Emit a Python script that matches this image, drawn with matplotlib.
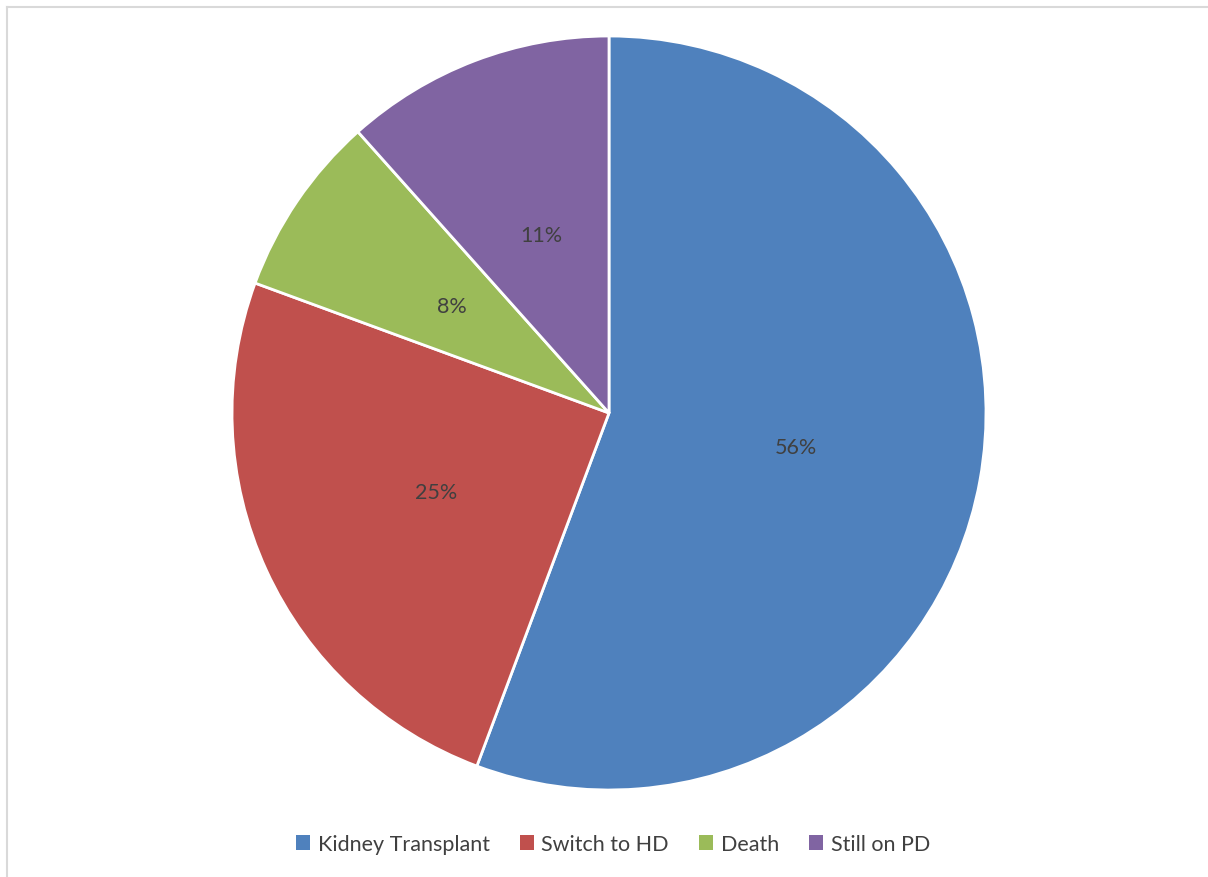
import matplotlib
matplotlib.use("Agg")
import matplotlib.pyplot as plt
import numpy as np
from matplotlib.lines import Line2D

categories = ["Kidney Transplant", "Switch to HD", "Death", "Still on PD"]
shares = [55.7, 24.9, 7.8, 11.6]
pct_labels = ["56%", "25%", "8%", "11%"]
colors = ["#4F81BD", "#C0504D", "#9BBB59", "#8064A2"]

plt.rcParams['font.family'] = ['Lato', 'DejaVu Sans']

W, H = 1208, 878
fig = plt.figure(figsize=(W / 100, H / 100), dpi=100)

# pie centre and radius in pixels
cx, cy, r = 609, 414, 377
ax = fig.add_axes([(cx - r) / W, (H - cy - r) / H, 2 * r / W, 2 * r / H])

wedges, texts = ax.pie(shares, colors=colors, startangle=90, counterclock=False,
                       radius=1, wedgeprops=dict(edgecolor="white", linewidth=2))
for w, lab in zip(wedges, pct_labels):
    ang = np.deg2rad((w.theta1 + w.theta2) / 2)
    ax.text(0.505 * np.cos(ang), 0.505 * np.sin(ang), lab, ha="center", va="center",
            fontsize=15.5, color="#404040")
ax.set_xlim(-1, 1)
ax.set_ylim(-1, 1)
ax.set_aspect("equal")
ax.axis("off")

# light grey chart border (only top and left visible)
fig.add_artist(Line2D([7 / W, 7 / W], [0, 1 - 8 / H], color="#d9d9d9", lw=1.5))
fig.add_artist(Line2D([7 / W, 1], [1 - 8 / H, 1 - 8 / H], color="#d9d9d9", lw=1.5))

leg = fig.legend(wedges, categories, loc="center", bbox_to_anchor=(613 / W, 1 - 845 / H),
                 ncol=4, frameon=False, fontsize=15.5, handlelength=0.65, handleheight=0.65,
                 handletextpad=0.35, columnspacing=1.4, labelcolor="#404040")
for h in leg.legend_handles:
    h.set_edgecolor("none")

fig.savefig("out.png", dpi=100)
